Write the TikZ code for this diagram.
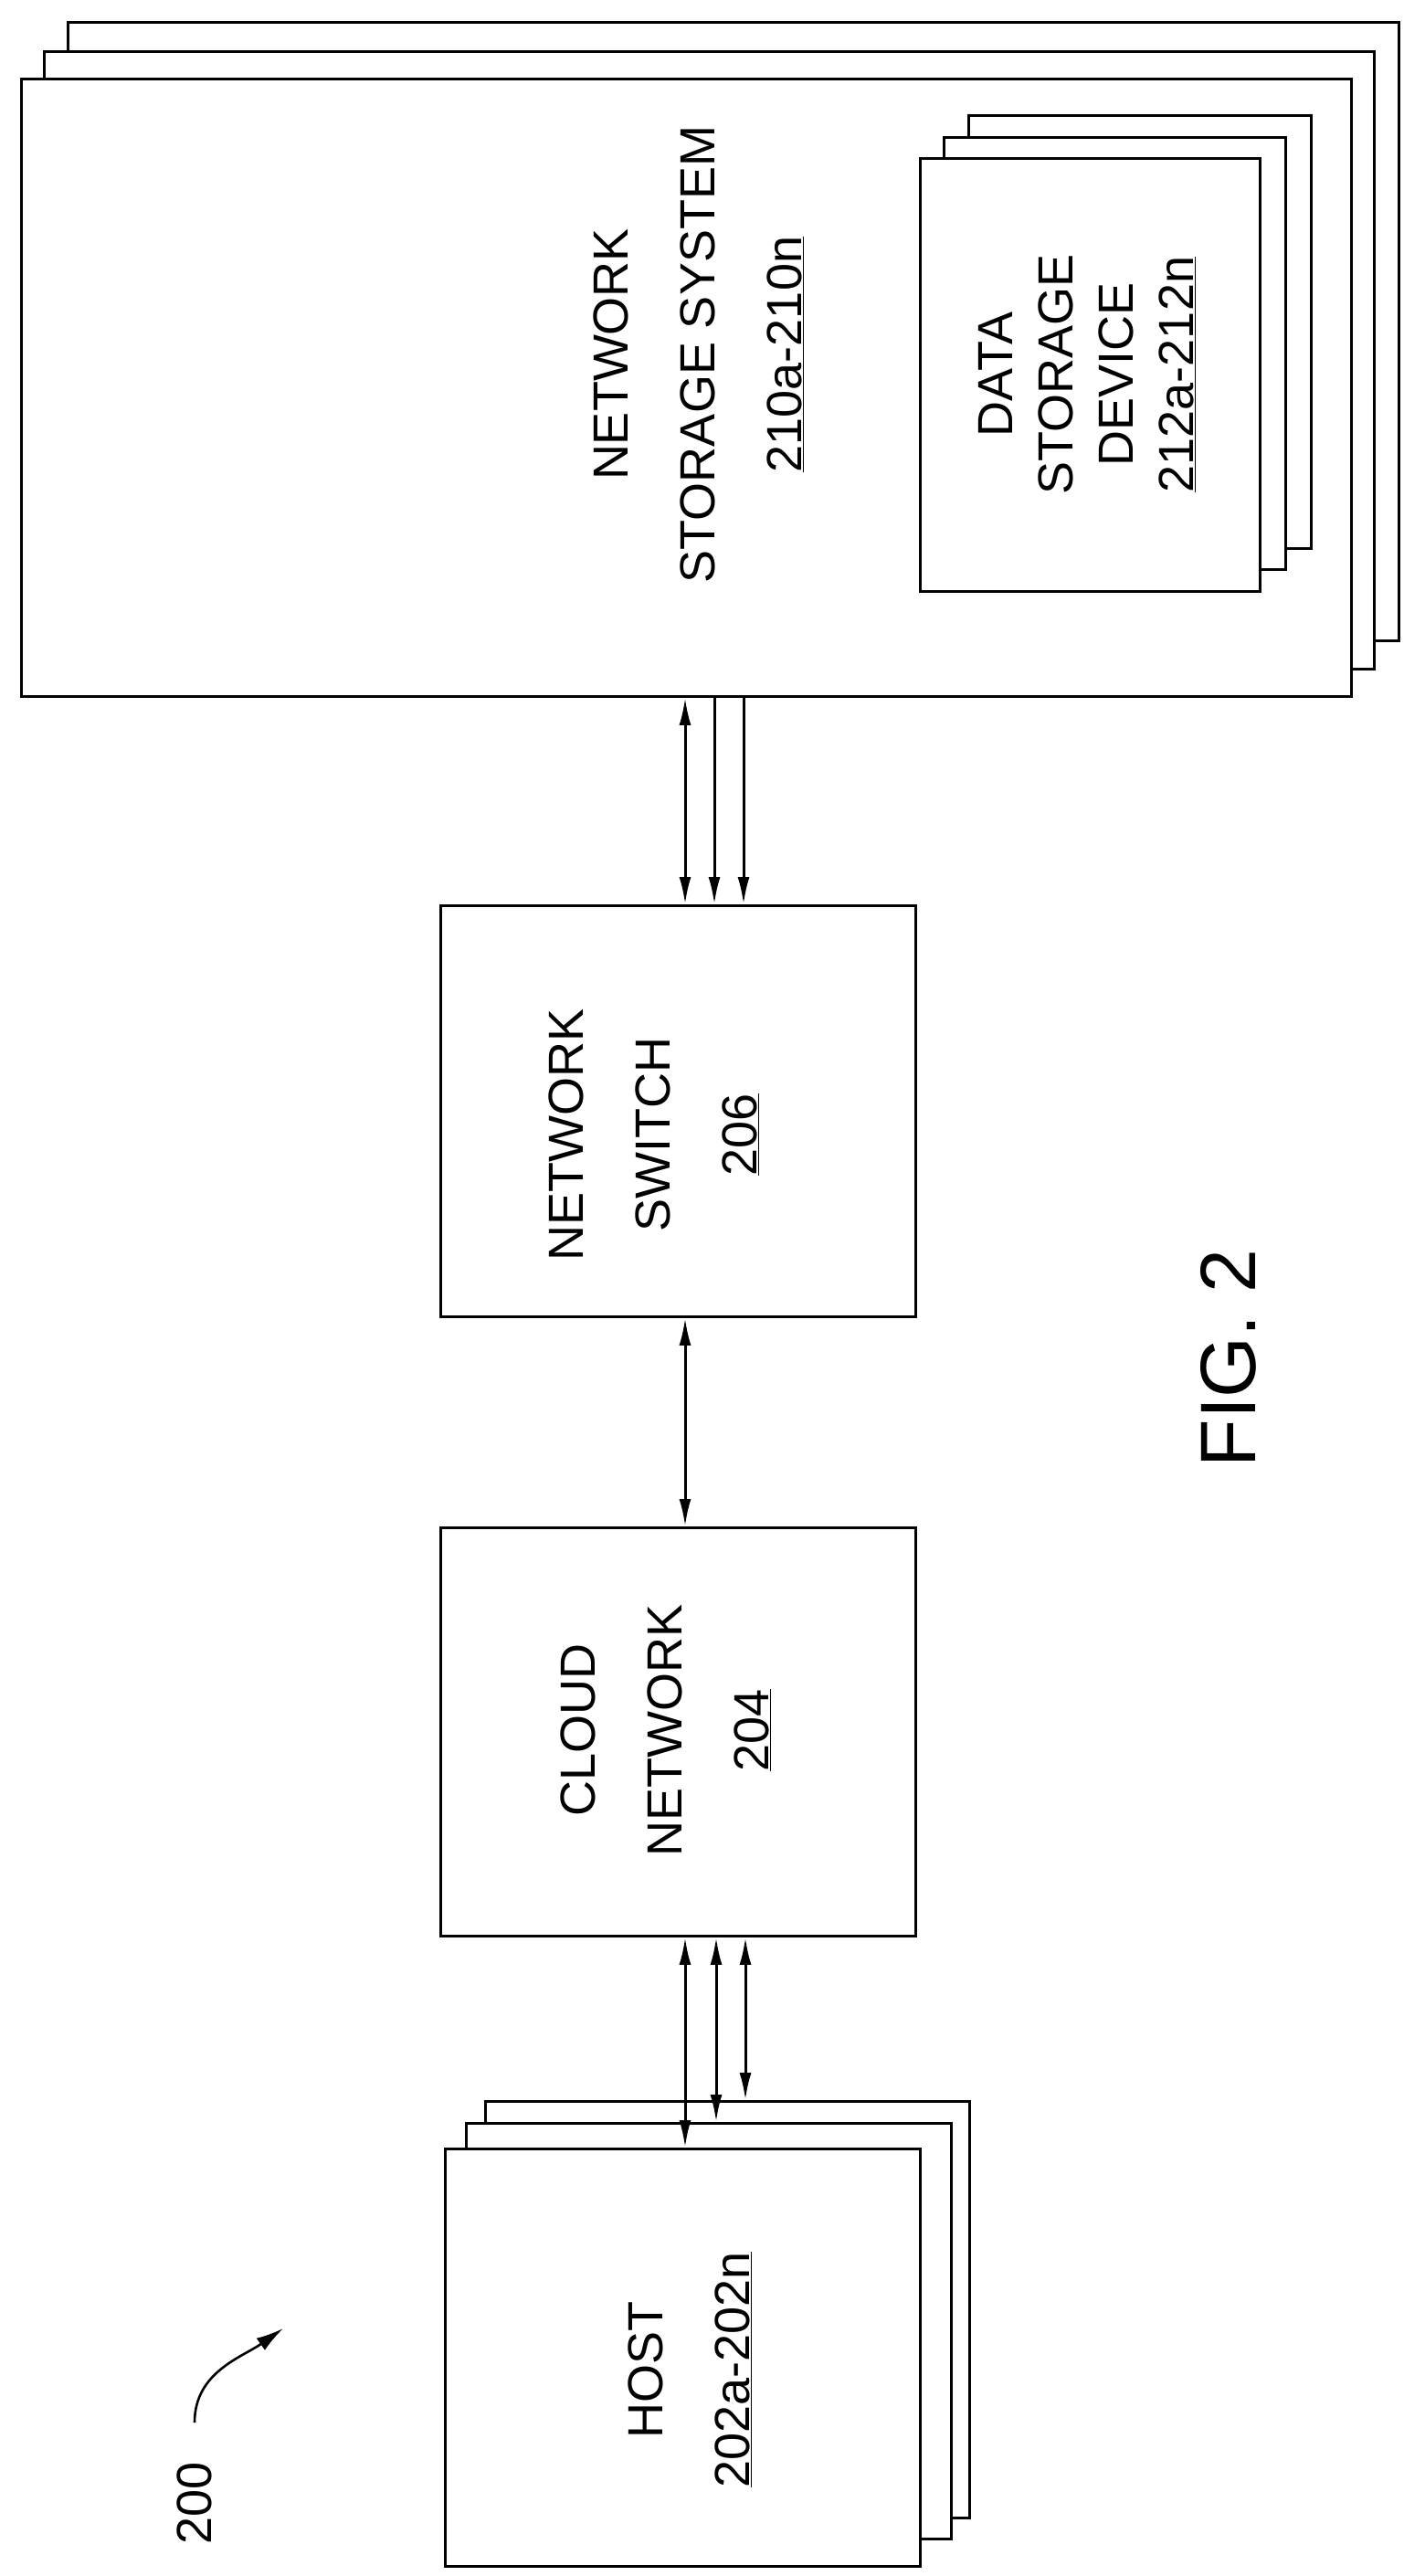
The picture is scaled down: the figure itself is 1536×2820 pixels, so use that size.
\documentclass[tikz,border=0pt]{standalone}
\usepackage{fontspec}
\setmainfont{Liberation Sans}
\usetikzlibrary{arrows.meta}
\newcommand{\ul}[1]{\underline{\smash{#1}}\vphantom{#1}}
\begin{document}
\begin{tikzpicture}[x=1pt,y=-1pt,
  box/.style={draw,line width=2.8pt,fill=white,anchor=north west,inner sep=0pt},
  lbl/.style={rotate=90,align=center,font=\fontsize{54}{#1}\selectfont},
  lbl/.default=95,
  con/.style={line width=3pt,{Latex[length=30pt,width=13pt]}-{Latex[length=30pt,width=13pt]}},
  cond/.style={line width=3pt,-{Latex[length=30pt,width=13pt]}}]
\useasboundingbox (0,0) rectangle (1536,2820);
% network storage system
\node[box,minimum width=1457,minimum height=677] (nss3) at (73,23) {};
\node[box,minimum width=1456,minimum height=676] (nss2) at (47,55) {};
\node[box,minimum width=1456,minimum height=676] (nss) at (22,85) {};
\node[lbl] (nsst) at (765,388) {NETWORK\\STORAGE SYSTEM\\\underline{210a-210n}};
\node[box,minimum width=375,minimum height=474] (ds3) at (1059,125) {};
\node[box,minimum width=374,minimum height=473] (ds2) at (1032,149) {};
\node[box,minimum width=372,minimum height=474] (ds) at (1006,172) {};
\node[lbl=66] (dst) at (1190,410) {DATA\\STORAGE\\DEVICE\\\underline{212a-212n}};
% switch
\node[box,minimum width=520,minimum height=450] (sw) at (481,990) {};
\node[lbl] (swt) at (716,1242) {NETWORK\\SWITCH\\\underline{206}};
% cloud
\node[box,minimum width=520,minimum height=447] (cl) at (481,1671) {};
\node[lbl] (clt) at (729,1894) {CLOUD\\NETWORK\\\underline{204}};
% host
\node[box,minimum width=530,minimum height=456] (host3) at (530,2299) {};
\node[box,minimum width=531,minimum height=455] (host2) at (509,2323) {};
\node[box,minimum width=520,minimum height=457] (host) at (486,2351) {};
\node[lbl] (hostt) at (755,2594) {HOST\\\underline{202a-202n}};
% connector x positions
\coordinate (xa) at (750,0);
\coordinate (xb) at (782,0);
\coordinate (xc) at (814,0);
\coordinate (ya) at (750,0);
\coordinate (yb) at (784,0);
\coordinate (yc) at (816,0);
\draw[con] (nss.south -| xa) -- (sw.north -| xa);
\draw[cond] (nss.south -| xb) -- (sw.north -| xb);
\draw[cond] (nss.south -| xc) -- (sw.north -| xc);
\draw[con] (sw.south -| xa) -- (cl.north -| xa);
\draw[con] (cl.south -| ya) -- (host.north -| ya);
\draw[con] (cl.south -| yb) -- (host2.north -| yb);
\draw[con] (cl.south -| yc) -- (host3.north -| yc);
% figure label
\node[rotate=90,font=\fontsize{86}{90}\selectfont] (fig) at (1345,1487) {FIG. 2};
\node[rotate=90,font=\fontsize{54}{60}\selectfont] (ref) at (213,2740) {200};
\coordinate (c1) at (213,2652);
\coordinate (c2) at (310,2549);
\draw[line width=2.6pt,-{Latex[length=30pt,width=16pt]}] (c1) to[out=90,in=215] (c2);
\end{tikzpicture}
\end{document}
